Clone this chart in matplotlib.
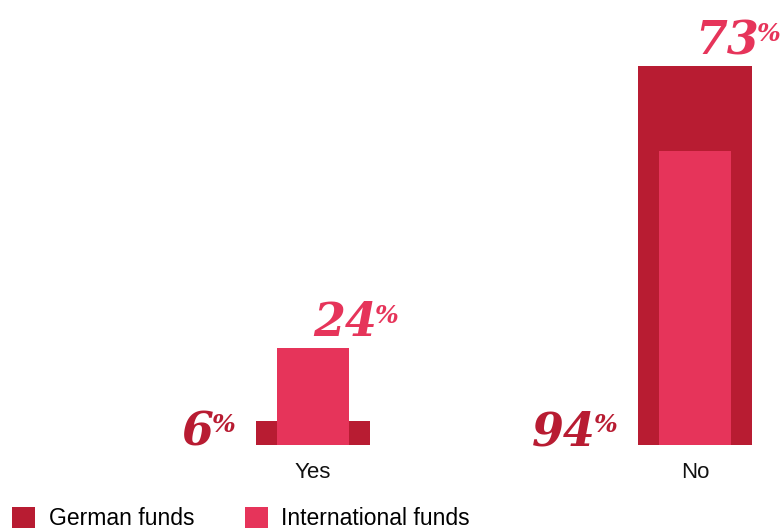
import matplotlib
matplotlib.use("Agg")
import matplotlib.pyplot as plt
from matplotlib.patches import Patch

categories = ["Yes", "No"]
german_funds = [6, 94]
international_funds = [24, 73]
series_names = ["German funds", "International funds"]

DARK = "#B81C32"
PINK = "#E6345A"
DPI = 100
W, H = 782, 528

fig = plt.figure(figsize=(W / DPI, H / DPI), dpi=DPI)
ax = fig.add_axes([0, 83 / H, 1, 1 - 83 / H])

x = list(range(len(categories)))
wide, narrow = 0.298, 0.188
ax.bar(x, german_funds, width=wide, color=DARK, zorder=1)
ax.bar(x, international_funds, width=narrow, color=PINK, zorder=2)

ax.set_xlim(-0.8194, 1.2277)
ax.set_ylim(0, 110.4)
for s in ax.spines.values():
    s.set_visible(False)
ax.set_yticks([])
ax.set_xticks(x)
ax.set_xticklabels(categories, fontsize=16, family="Liberation Sans", color="#111111")
ax.tick_params(axis="x", length=0, pad=12)

num_font = dict(family="DejaVu Serif", style="italic", weight="bold")


def value_label(xy, value, color, ha, offset):
    digits = ax.annotate(f"{value}", xy=xy, xycoords="data", xytext=offset,
                         textcoords="offset pixels", ha=ha, va="baseline",
                         fontsize=33, color=color, **num_font)
    ax.annotate("%", xy=(1, 1), xycoords=digits, xytext=(-2, -4),
                textcoords="offset pixels", ha="left", va="top",
                fontsize=18, color=color, **num_font)
    return digits


for i in x:
    # German share: to the left of the wide bar, on the baseline
    value_label((i - wide / 2, 0), german_funds[i], DARK, "right", (-42, 0))
    # International share: above the taller of the two bars
    top = max(german_funds[i], international_funds[i])
    value_label((i, top), international_funds[i], PINK, "left", (0, 12))

handles = [Patch(facecolor=DARK, edgecolor="none"), Patch(facecolor=PINK, edgecolor="none")]
fig.legend(handles, series_names, loc="upper left", bbox_to_anchor=(12 / W, 1 - 507 / H),
           ncol=2, frameon=False, borderpad=0, borderaxespad=0,
           handlelength=1.0, handleheight=1.0, handletextpad=0.6, columnspacing=2.2,
           prop=dict(family="Liberation Sans", size=16.5))

fig.savefig("out.png", dpi=DPI)
